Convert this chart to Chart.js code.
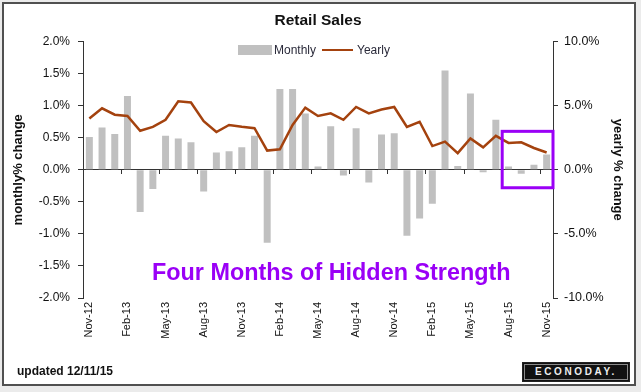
<!DOCTYPE html>
<html>
<head>
<meta charset="utf-8">
<script src="https://cdn.jsdelivr.net/npm/chart.js@4.4.0/dist/chart.umd.min.js"></script>
<style>
    html, body { margin: 0; padding: 0; background: #ebebeb; }
    #wrap { position: relative; width: 641px; height: 392px; overflow: hidden; }
    #panel { position: absolute; left: 2px; top: 2px; width: 630px; height: 380px; background: #fff; border: 2px solid #505050; }
    #chart { position: absolute; left: 0; top: 0; }
    .txt { position: absolute; font-family: "Liberation Sans", Arial, sans-serif; white-space: nowrap; }
    #callout { left: 152px; top: 261px; font-size: 23.4px; line-height: 23px; color: #9a00f6; font-weight: bold; }
    #updated { left: 17px; top: 364px; font-size: 12px; line-height: 14px; color: #111; font-weight: bold; }
    #logo { left: 522px; top: 362px; width: 106px; height: 18px; background: #111; border: 1px solid #222;
            box-shadow: inset 0 0 0 1px #111, inset 0 0 0 2px #8a8a8a;
            color: #eee; font-size: 10px; line-height: 18px; letter-spacing: 2.6px; text-align: center; font-weight: bold; }
    #legend { top: 43px; font-size: 12px; line-height: 14px; color: #2a2a3a; display: flex; align-items: center; }
    #legend .box { display: inline-block; width: 34px; height: 10px; margin-right: 2px; }
    #legend .line { display: inline-block; width: 31px; height: 0; margin: 0 4px 0 6px; }
</style>
</head>
<body>
<div id="wrap">
    <div id="panel"></div>
    <canvas id="chart" width="641" height="392"></canvas>
    <div class="txt" id="legend"></div>
    <div class="txt" id="callout">Four Months of Hidden Strength</div>
    <div class="txt" id="updated">updated 12/11/15</div>
    <div class="txt" id="logo">ECONODAY.</div>
</div>
<script>
const months = [
    'Nov-12', 'Dec-12', 'Jan-13', 'Feb-13', 'Mar-13', 'Apr-13', 'May-13', 'Jun-13', 'Jul-13', 'Aug-13', 'Sep-13', 'Oct-13',
    'Nov-13', 'Dec-13', 'Jan-14', 'Feb-14', 'Mar-14', 'Apr-14', 'May-14', 'Jun-14', 'Jul-14', 'Aug-14', 'Sep-14', 'Oct-14',
    'Nov-14', 'Dec-14', 'Jan-15', 'Feb-15', 'Mar-15', 'Apr-15', 'May-15', 'Jun-15', 'Jul-15', 'Aug-15', 'Sep-15', 'Oct-15',
    'Nov-15'
];
// monthly % change (left axis)
const monthly = [
    0.51, 0.66, 0.56, 1.15, -0.66, -0.30, 0.53, 0.49, 0.43, -0.34, 0.27, 0.29,
    0.35, 0.53, -1.14, 1.26, 1.26, 0.88, 0.05, 0.68, -0.09, 0.65, -0.20, 0.55,
    0.57, -1.03, -0.76, -0.53, 1.55, 0.06, 1.19, -0.04, 0.78, 0.05, -0.06, 0.08,
    0.24
];
// yearly % change (right axis)
const yearly = [
    4.0, 4.8, 4.3, 4.2, 3.05, 3.35, 3.9, 5.35, 5.25, 3.8, 2.95, 3.5,
    3.35, 3.25, 1.5, 1.6, 3.5, 4.85, 4.2, 4.4, 3.9, 4.9, 4.4, 4.7,
    4.9, 3.35, 3.75, 1.85, 2.2, 1.3, 2.45, 1.75, 2.65, 2.1, 2.15, 1.7,
    1.35
];
const highlightFrom = 'Aug-15';   // purple box covers the last four months
const highlightTop = 0.6;
const highlightBottom = -0.28;

const font = 'Liberation Sans, Arial, sans-serif';
const axisColor = '#333';
const barColor = '#c0c0c0';
const lineColor = '#a4420e';
const purple = '#9a00f6';

// purple rectangle round the last four months
const highlightBox = {
    id: 'highlightBox',
    afterDatasetsDraw(chart) {
        const { ctx, chartArea, scales } = chart;
        const half = (scales.x.getPixelForValue(1) - scales.x.getPixelForValue(0)) / 2;
        const left = scales.x.getPixelForValue(months.indexOf(highlightFrom)) - half;
        const top = scales.y.getPixelForValue(highlightTop);
        const bottom = scales.y.getPixelForValue(highlightBottom);
        ctx.save();
        ctx.strokeStyle = purple;
        ctx.lineWidth = 3;
        ctx.strokeRect(left, top, chartArea.right - left, bottom - top);
        ctx.restore();
    }
};

// legend sits inside the plot area, so build it as html over the canvas
const htmlLegend = {
    id: 'htmlLegend',
    afterUpdate(chart) {
        const el = document.getElementById('legend');
        el.innerHTML = '';
        chart.data.datasets.forEach((ds) => {
            const mark = document.createElement('span');
            if (ds.type === 'line') {
                mark.className = 'line';
                mark.style.borderTop = ds.borderWidth + 'px solid ' + ds.borderColor;
            } else {
                mark.className = 'box';
                mark.style.background = ds.backgroundColor;
            }
            const label = document.createElement('span');
            label.textContent = ds.label;
            el.appendChild(mark);
            el.appendChild(label);
        });
        const { left, right } = chart.chartArea;
        el.style.left = Math.round((left + right) / 2 - el.offsetWidth / 2 - 4) + 'px';
    }
};

const pct = (v) => v.toFixed(1) + '%';

new Chart(document.getElementById('chart'), {
    type: 'bar',
    data: {
        labels: months,
        datasets: [{
            type: 'bar',
            label: 'Monthly',
            data: monthly,
            backgroundColor: barColor,
            borderWidth: 0,
            barPercentage: 0.55,
            categoryPercentage: 1.0,
            yAxisID: 'y',
            order: 1,
        }, {
            type: 'line',
            label: 'Yearly',
            data: yearly,
            borderColor: lineColor,
            backgroundColor: lineColor,
            borderWidth: 2.5,
            pointRadius: 0,
            tension: 0,
            yAxisID: 'y1',
            order: 0,
        }]
    },
    options: {
        responsive: false,
        animation: false,
        layout: { padding: { left: 7, right: 12, top: 0, bottom: 0 } },
        plugins: {
            title: {
                display: true,
                text: 'Retail Sales',
                color: '#111',
                font: { family: font, size: 15.5, weight: 'bold' },
                padding: { top: 11, bottom: 12 },
            },
            legend: { display: false },
            tooltip: { enabled: false },
        },
        scales: {
            // category axis sitting on the zero line: only tick marks
            x: {
                type: 'category',
                position: { y: 0 },
                offset: true,
                ticks: { display: false },
                grid: {
                    offset: true,
                    drawOnChartArea: false,
                    tickLength: 4,
                    color: (ctx) => ctx.index % 3 === 0 ? axisColor : 'rgba(0,0,0,0)',
                },
                border: { color: axisColor, width: 1 },
            },
            // bottom axis: month labels only
            x2: {
                type: 'category',
                labels: months,
                position: 'bottom',
                offset: true,
                grid: { display: false, drawTicks: false },
                border: { display: false },
                ticks: {
                    autoSkip: false,
                    minRotation: 90,
                    maxRotation: 90,
                    padding: 4,
                    color: '#111',
                    font: { family: font, size: 11 },
                    callback: (v, i) => i % 3 === 0 ? months[i] : '',
                },
                afterFit: (scale) => { scale.height = 94; },
            },
            y: {
                position: 'left',
                min: -2, max: 2,
                ticks: {
                    stepSize: 0.5,
                    padding: 8,
                    color: '#111',
                    font: { family: font, size: 12 },
                    callback: pct,
                },
                grid: { drawOnChartArea: false, tickLength: 5, color: axisColor },
                border: { color: axisColor, width: 1 },
                title: {
                    display: true,
                    text: 'monthly% change',
                    color: '#111',
                    font: { family: font, size: 13, weight: 'bold' },
                },
                afterFit: (scale) => { scale.width = 76; },
            },
            y1: {
                position: 'right',
                min: -10, max: 10,
                ticks: {
                    stepSize: 5,
                    padding: 6,
                    color: '#111',
                    font: { family: font, size: 12.5 },
                    callback: pct,
                },
                grid: { drawOnChartArea: false, tickLength: 5, color: axisColor },
                border: { color: axisColor, width: 1 },
                title: {
                    display: true,
                    text: 'yearly % change',
                    color: '#111',
                    font: { family: font, size: 13, weight: 'bold' },
                },
                afterFit: (scale) => { scale.width = 76; },
            },
        },
    },
    plugins: [highlightBox, htmlLegend],
});
</script>
</body>
</html>
